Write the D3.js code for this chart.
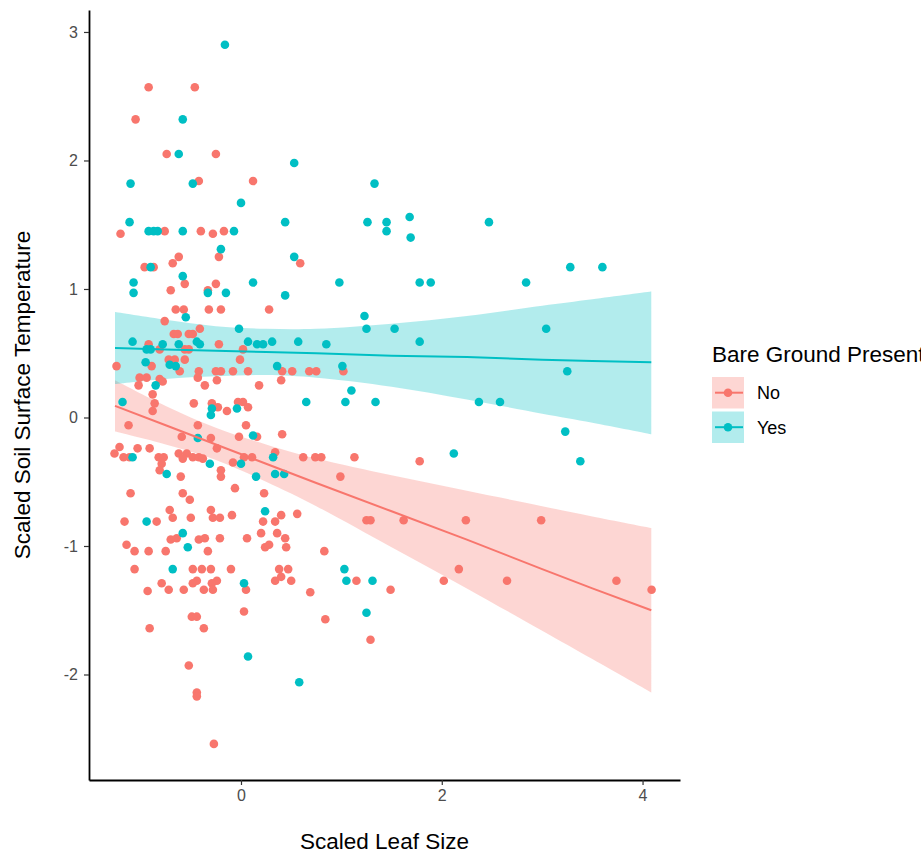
<!DOCTYPE html>
<html>
<head>
<meta charset="utf-8">
<script src="https://cdn.jsdelivr.net/npm/d3@7"></script>
<style>
  body { margin: 0; background: #fff; }
  #soil-graph svg { display: block; }
</style>
</head>
<body>
<div id="soil-graph"></div>
<script>
// Bare ground absent ("No")
const noX = [-0.92, -0.46, -1.05, -0.74, -0.25, -0.42, 0.12, -1.20, -0.76, -0.40, -0.28, -0.17, -0.62, -0.22, -0.68, 0.59,
  -0.96, -0.87, -0.56, -0.70, -0.25, -0.33, -0.65, -0.57, -0.32, -0.20, -0.76, -0.41, -0.67, -0.63, -0.52, -0.48,
  -0.92, -0.22, -0.81, -0.56, -0.52, 0.02, -1.24, -0.89, -0.72, -0.66, -0.56, -0.01, -0.61, -0.42, -0.25, -0.20,
  -0.08, 0.07, -1.01, -0.94, -1.02, -0.81, -0.78, -0.43, -0.24, -0.36, -0.88, -0.86, -0.88, -0.47, -0.29, -0.23,
  -0.14, -0.03, 0.02, 0.07, 0.05, -1.12, -0.43, -0.59, -0.30, -0.02, -0.24, -1.21, -1.26, -1.17, -1.11, -1.03,
  -0.91, -0.82, -0.77, -0.79, -0.81, -0.62, -0.54, -0.48, -0.42, -0.58, -0.38, -0.60, -0.20, -0.20, -0.08, 0.03,
  0.11, -1.10, -0.58, -0.51, -0.06, -0.71, -0.68, -0.50, -0.30, -0.28, -0.21, -0.09, -1.16, -0.84, -0.70, -0.64,
  -0.42, -0.36, -0.21, 0.06, -1.14, -1.06, -0.92, -0.75, -0.33, -1.06, -0.48, -0.39, -0.30, -0.10, -0.79, -0.44,
  -0.48, -0.24, -0.29, -0.93, -0.72, -0.57, -0.37, -0.28, 0.05, -0.49, -0.44, 0.03, -0.91, -0.37, -0.52, -0.44,
  -0.44, -0.27, 0.28, 0.41, 0.51, 0.40, 0.68, 0.75, 1.02, 0.18, 0.16, 0.41, 0.34, 0.62, 0.74, 0.80,
  1.13, 0.99, 0.23, 0.40, 0.56, 1.25, 1.29, 0.22, 0.34, 0.20, 0.36, 0.44, 0.24, 0.28, 0.45, 0.83,
  0.38, 0.47, 0.34, 0.40, 0.50, 1.15, 1.49, 0.69, 0.84, 1.29, 1.78, 1.62, 2.24, 2.99, 2.17, 2.02,
  2.65, 3.74, 4.09];
const noY = [2.57, 2.57, 2.32, 2.05, 2.05, 1.84, 1.84, 1.43, 1.45, 1.45, 1.43, 1.45, 1.25, 1.25, 1.20, 1.20,
  1.17, 1.17, 1.04, 0.99, 1.04, 0.99, 0.84, 0.84, 0.84, 0.84, 0.75, 0.69, 0.65, 0.65, 0.65, 0.65,
  0.57, 0.57, 0.53, 0.53, 0.53, 0.53, 0.40, 0.40, 0.45, 0.45, 0.45, 0.45, 0.36, 0.36, 0.36, 0.36,
  0.36, 0.36, 0.31, 0.31, 0.25, 0.30, 0.28, 0.31, 0.29, 0.25, 0.18, 0.11, 0.05, 0.11, 0.11, 0.08,
  0.05, 0.12, 0.12, 0.08, -0.06, -0.06, -0.06, -0.15, -0.16, -0.15, -0.24, -0.23, -0.28, -0.31, -0.31, -0.24,
  -0.24, -0.31, -0.31, -0.36, -0.41, -0.28, -0.28, -0.31, -0.31, -0.32, -0.32, -0.46, -0.41, -0.46, -0.35, -0.31,
  -0.31, -0.59, -0.59, -0.64, -0.55, -0.72, -0.78, -0.78, -0.72, -0.78, -0.78, -0.76, -0.81, -0.81, -0.95, -0.94,
  -0.95, -0.94, -0.94, -0.94, -0.99, -1.04, -1.04, -1.04, -1.04, -1.18, -1.18, -1.18, -1.18, -1.18, -1.29, -1.27,
  -1.29, -1.27, -1.29, -1.35, -1.34, -1.34, -1.34, -1.34, -1.34, -1.55, -1.55, -1.51, -1.64, -1.64, -1.93, -2.14,
  -2.17, -2.54, 0.84, 0.36, 0.36, 0.29, 0.36, 0.36, 0.36, 0.25, -0.15, -0.13, -0.27, -0.31, -0.31, -0.31,
  -0.31, -0.46, -0.59, -0.76, -0.75, -0.80, -0.80, -0.81, -0.81, -0.90, -0.90, -0.94, -1.01, -0.99, -1.01, -1.04,
  -1.18, -1.18, -1.27, -1.24, -1.27, -1.27, -1.34, -1.36, -1.57, -1.73, -0.34, -0.80, -0.80, -0.80, -1.18, -1.27,
  -1.27, -1.27, -1.34];

// Bare ground present ("Yes")
const yesX = [-0.16, -0.58, -0.62, -1.10, -0.48, 0.00, -1.11, -0.92, -0.87, -0.83, -0.58, -0.07, -0.20, 0.53, 1.33, 0.44,
  1.26, 1.45, 1.45, 0.53, 1.68, 2.47, 1.69, 1.78, 1.89, 2.84, 3.28, 3.60, 3.04, 1.78, 3.25, 2.37,
  2.58, 3.23, 2.12, 3.38, -0.90, -1.07, -1.07, -0.58, -0.33, -0.15, 0.12, -0.55, -0.02, -1.08, -0.78, -0.62,
  -0.44, -0.41, 0.07, -0.94, -0.90, -0.95, -0.71, -0.65, -0.85, -1.18, -0.29, -0.30, -0.04, 0.12, -0.43, -1.08,
  -0.74, -0.31, 0.00, -0.94, -0.58, -0.53, -0.68, 0.03, 0.07, 0.98, 0.44, 1.23, 1.25, 1.53, 0.16, 0.22,
  0.31, 0.57, 0.85, 0.36, 1.01, 1.10, 0.65, 1.04, 1.34, 0.32, 0.15, 0.34, 0.43, 0.24, 1.03, 1.05,
  1.31, 1.25, 0.58];
const yesY = [2.90, 2.32, 2.05, 1.82, 1.82, 1.67, 1.52, 1.45, 1.45, 1.45, 1.45, 1.45, 1.31, 1.98, 1.82, 1.52,
  1.52, 1.52, 1.45, 1.25, 1.56, 1.52, 1.40, 1.05, 1.05, 1.05, 1.17, 1.17, 0.69, 0.59, 0.36, 0.12,
  0.12, -0.11, -0.28, -0.34, 1.17, 1.05, 0.97, 1.10, 0.97, 0.97, 1.05, 0.78, 0.69, 0.59, 0.57, 0.57,
  0.59, 0.57, 0.59, 0.53, 0.53, 0.43, 0.41, 0.40, 0.25, 0.12, 0.07, 0.02, 0.07, -0.14, -0.16, -0.31,
  -0.44, -0.36, -0.36, -0.81, -0.90, -1.01, -1.18, -1.29, -1.86, 1.05, 0.95, 0.79, 0.69, 0.69, 0.57, 0.57,
  0.59, 0.59, 0.57, 0.40, 0.40, 0.21, 0.12, 0.12, 0.12, -0.31, -0.46, -0.44, -0.44, -0.73, -1.18, -1.27,
  -1.27, -1.52, -2.06];

const bandX = [-1.255, -0.75, -0.25, 0.25, 0.75, 1.5, 2.25, 3, 3.5, 4.087];
const noFit = [0.09, -0.06, -0.21, -0.36, -0.51, -0.73, -0.95, -1.18, -1.33, -1.50];
const noLo = [-0.11, -0.21, -0.33, -0.50, -0.69, -1.01, -1.33, -1.66, -1.88, -2.14];
const noHi = [0.29, 0.09, -0.08, -0.21, -0.32, -0.45, -0.57, -0.69, -0.77, -0.86];
const yesFit = [0.54, 0.53, 0.52, 0.51, 0.50, 0.48, 0.47, 0.45, 0.44, 0.43];
const yesLo = [0.26, 0.30, 0.32, 0.33, 0.31, 0.24, 0.14, 0.03, -0.04, -0.13];
const yesHi = [0.82, 0.76, 0.71, 0.69, 0.69, 0.73, 0.79, 0.87, 0.92, 0.98];

const xTicks = [0, 2, 4];
const yTicks = [-2, -1, 0, 1, 2, 3];
const groups = ["No", "Yes"];

const colors = { No: "#F8766D", Yes: "#00BFC4" };
const font = "'Liberation Sans', Arial, sans-serif";

const setUpChart = () => {
  // Set up the SVG element
  const svg = d3.select("#soil-graph").append("svg")
    .attr("width", 921)
    .attr("height", 854);
  const margin = { top: 10, right: 241, bottom: 74, left: 89 };
  const innerWidth = 921 - margin.left - margin.right;
  const innerHeight = 854 - margin.top - margin.bottom;

  const g = svg.append("g")
    .attr("transform", `translate(${margin.left},${margin.top})`);

  const x = d3.scaleLinear().domain([-1.514, 4.373]).range([0, innerWidth]);
  const y = d3.scaleLinear().domain([-2.821, 3.171]).range([innerHeight, 0]);

  setupBands(g, x, y);
  setupPoints(g, x, y);
  setupLines(g, x, y);
  setupAxis(svg, g, x, y, innerWidth, innerHeight, margin);
  setupLegend(svg);
};

const setupBands = (g, x, y) => {
  const fits = [
    { key: "No", lo: noLo, hi: noHi },
    { key: "Yes", lo: yesLo, hi: yesHi },
  ];
  const area = (d) => d3.area()
    .x((v, i) => x(bandX[i]))
    .y0((v, i) => y(d.lo[i]))
    .y1((v, i) => y(d.hi[i]))
    .curve(d3.curveCatmullRom)(bandX);

  g.selectAll(".band")
    .data(fits)
    .enter()
    .append("path")
    .attr("class", "band")
    .attr("d", area)
    .attr("fill", (d) => colors[d.key])
    .attr("fill-opacity", 0.3);
};

const setupPoints = (g, x, y) => {
  const pts = [];
  noX.forEach((v, i) => pts.push({ key: "No", x: v, y: noY[i] }));
  yesX.forEach((v, i) => pts.push({ key: "Yes", x: v, y: yesY[i] }));

  g.selectAll("circle")
    .data(pts)
    .enter()
    .append("circle")
    .attr("cx", (d) => x(d.x))
    .attr("cy", (d) => y(d.y))
    .attr("r", 4.3)
    .attr("fill", (d) => colors[d.key]);
};

const setupLines = (g, x, y) => {
  const line = d3.line()
    .x((v, i) => x(bandX[i]))
    .y((v) => y(v));

  g.append("path").attr("d", line(noFit))
    .attr("fill", "none").attr("stroke", colors.No).attr("stroke-width", 2);
  g.append("path").attr("d", line(yesFit))
    .attr("fill", "none").attr("stroke", colors.Yes).attr("stroke-width", 2);
};

const setupAxis = (svg, g, x, y, innerWidth, innerHeight, margin) => {
  // Add the x-axis
  const xAxis = g.append("g")
    .attr("transform", `translate(0,${innerHeight})`)
    .call(d3.axisBottom(x).tickValues(xTicks).tickFormat((d) => String(d))
      .tickSize(5).tickPadding(5).tickSizeOuter(0));

  // Add the y-axis
  const yAxis = g.append("g")
    .call(d3.axisLeft(y).tickValues(yTicks).tickFormat((d) => String(d))
      .tickSize(5).tickPadding(6).tickSizeOuter(0));

  [xAxis, yAxis].forEach((a) => {
    a.select(".domain").attr("stroke", "#000").attr("stroke-width", 1.8);
    a.selectAll(".tick line").attr("stroke", "#333").attr("stroke-width", 1.2);
    a.selectAll(".tick text")
      .attr("fill", "#4D4D4D")
      .style("font-family", font)
      .style("font-size", "16px");
  });

  svg.append("text")
    .attr("x", margin.left + innerWidth / 2)
    .attr("y", 849)
    .attr("text-anchor", "middle")
    .style("font-family", font)
    .style("font-size", "22.5px")
    .text("Scaled Leaf Size");

  svg.append("text")
    .attr("transform", `translate(30,${margin.top + innerHeight / 2}) rotate(-90)`)
    .attr("text-anchor", "middle")
    .style("font-family", font)
    .style("font-size", "22.5px")
    .text("Scaled Soil Surface Temperature");
};

const setupLegend = (svg) => {
  const lg = svg.append("g").attr("transform", "translate(712,0)");

  lg.append("text")
    .attr("x", 0)
    .attr("y", 362)
    .style("font-family", font)
    .style("font-size", "22.5px")
    .text("Bare Ground Present");

  const item = lg.selectAll(".key")
    .data(groups)
    .enter()
    .append("g")
    .attr("class", "key")
    .attr("transform", (d, i) => `translate(0,${377 + i * 34.5})`);

  item.append("rect")
    .attr("width", 32).attr("height", 31.5)
    .attr("fill", (d) => colors[d]).attr("fill-opacity", 0.3);
  item.append("line")
    .attr("x1", 3).attr("x2", 31).attr("y1", 15.7).attr("y2", 15.7)
    .attr("stroke", (d) => colors[d]).attr("stroke-width", 2);
  item.append("circle")
    .attr("cx", 16).attr("cy", 15.7).attr("r", 4.3)
    .attr("fill", (d) => colors[d]);
  item.append("text")
    .attr("x", 45).attr("y", 22)
    .style("font-family", font)
    .style("font-size", "18px")
    .text((d) => d);
};

setUpChart();
</script>
</body>
</html>
